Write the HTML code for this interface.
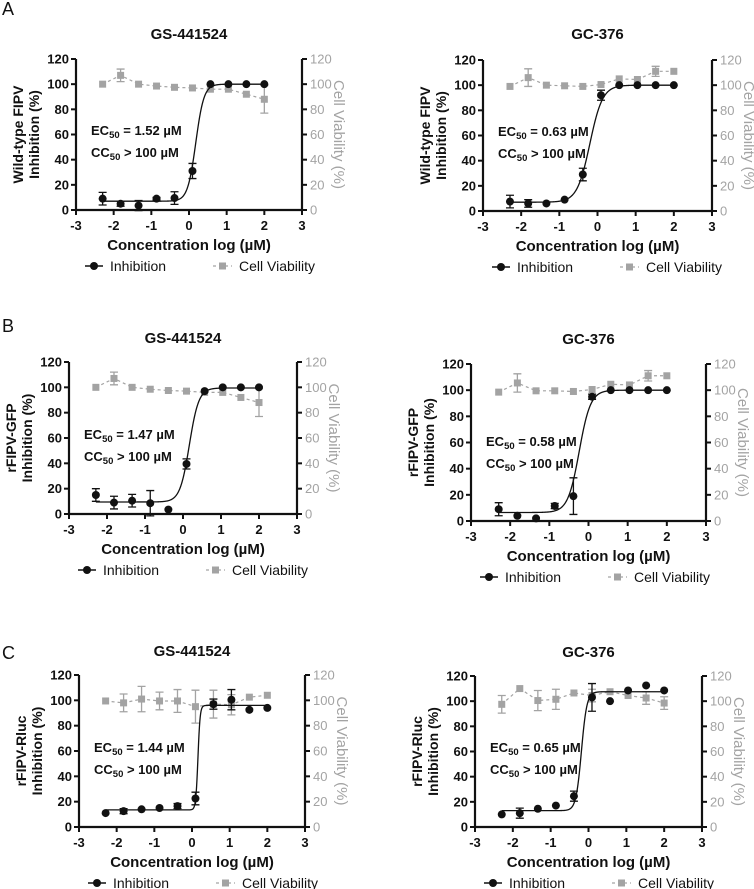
<!DOCTYPE html>
<html><head><meta charset="utf-8">
<style>
html,body{margin:0;padding:0;background:#fff;}
svg{display:block;font-family:"Liberation Sans",Arial,sans-serif;}
</style></head>
<body>
<svg id="fig" width="754" height="889" viewBox="0 0 754 889" xmlns="http://www.w3.org/2000/svg"></svg>
<script>
// Shared x values (log µM)
const xVals = [-2.293,-1.816,-1.339,-0.862,-0.385,0.092,0.569,1.046,1.523,2.0];
const xTicks = [-3,-2,-1,0,1,2,3];
const yTicks = [0,20,40,60,80,100,120];

// Panel A-left (GS-441524, Wild-type FIPV)
const aLInh = [9,5,3.5,9,9.5,31,100,100,100,100];
const aLInhErr = [5,2,4,1,5,6,0,0,0,0];
const aLVia = [100,107,100,98.5,97.5,97,96,96,92,88];
const aLViaErr = [0,5,0,0,0,0,0,0,0,11];
const aLFit = [7,100,0.18,4];
// Panel A-right (GC-376)
const aRInh = [7.5,6,6,9,29,92,100,100,100,100];
const aRInhErr = [5,3,0,0,5,4,0,0,0,0];
const aRVia = [99,106,100,99.5,99,100.5,105,104.5,111,111];
const aRViaErr = [0,7,0,0,0,0,0,0,4,0];
const aRFit = [7,100,-0.2,2.6];
// Panel B-left
const bLInh = [15,9,10.5,8.5,3.5,39.5,97,100,100,100];
const bLInhErr = [5,5,5,10,0,4,0,0,0,0];
const bLVia = [100,107,100,98.5,97.5,97,96,96,92,88];
const bLViaErr = [0,5,0,0,0,0,0,0,0,11];
const bLFit = [9.5,99.5,0.167,3.5];
// Panel B-right
const bRInh = [9,4,2,11.5,19,95,100,100,100,100];
const bRInhErr = [5,0,0,2,14,2,0,0,0,0];
const bRVia = [98.5,105.5,99.5,99.5,99,100.5,104.5,104,111,111];
const bRViaErr = [0,7,0,0,0,0,0,0,4,0];
const bRFit = [6.5,100,-0.237,3];
// Panel C-left
const cLInh = [11,12.5,14,15,16.5,22.5,97,100.5,92.5,94];
const cLInhErr = [0,2,0,0,2,5,4,8,0,0];
const cLVia = [99.5,98,101,99.5,99.5,95,97,96.5,102.5,104];
const cLViaErr = [0,7,10,7,9,13,11,8,0,0];
const cLFit = [13.5,96,0.158,15];
// Panel C-right
const cRInh = [10,11,14.5,17,24.5,103,100,108.5,112.5,108.5];
const cRInhErr = [0,4,0,0,4,11,0,0,0,0];
const cRVia = [97.5,110,100.5,101.5,106.5,104.5,107.5,104.5,102.5,98.5];
const cRViaErr = [7,0,8,8,0,5,0,0,5,5];
const cRFit = [13,107.5,-0.187,6];

const NS="http://www.w3.org/2000/svg";
const svg=document.getElementById('fig');
const GRAY="#a3a3a3";
function mk(tag,attrs,parent,text){
  const e=document.createElementNS(NS,tag);
  for(const k in attrs) e.setAttribute(k,attrs[k]);
  if(text!==undefined) e.textContent=text;
  (parent||svg).appendChild(e);return e;
}

const panels=[
 {id:'a-left',L:76,R:302,B:210,T:59,title:'GS-441524',tY:34,yt:['Wild-type FIPV','Inhibition (%)'],ec:'1.52',inh:aLInh,ie:aLInhErr,via:aLVia,ve:aLViaErr,fit:aLFit},
 {id:'a-right',L:483,R:712,B:211,T:60,title:'GC-376',tY:34,yt:['Wild-type FIPV','Inhibition (%)'],ec:'0.63',inh:aRInh,ie:aRInhErr,via:aRVia,ve:aRViaErr,fit:aRFit},
 {id:'b-left',L:69,R:297,B:514,T:362,title:'GS-441524',tY:338,yt:['rFIPV-GFP','Inhibition (%)'],ec:'1.47',inh:bLInh,ie:bLInhErr,via:bLVia,ve:bLViaErr,fit:bLFit},
 {id:'b-right',L:471,R:706,B:521,T:364,title:'GC-376',tY:339,yt:['rFIPV-GFP','Inhibition (%)'],ec:'0.58',inh:bRInh,ie:bRInhErr,via:bRVia,ve:bRViaErr,fit:bRFit},
 {id:'c-left',L:79,R:305,B:827,T:675,title:'GS-441524',tY:651,yt:['rFIPV-Rluc','Inhibition (%)'],ec:'1.44',inh:cLInh,ie:cLInhErr,via:cLVia,ve:cLViaErr,fit:cLFit},
 {id:'c-right',L:475,R:702,B:827,T:676,title:'GC-376',tY:652,yt:['rFIPV-Rluc','Inhibition (%)'],ec:'0.65',inh:cRInh,ie:cRInhErr,via:cRVia,ve:cRViaErr,fit:cRFit}
];

[['A',15],['B',332],['C',659]].forEach(([t,y])=>{
  const e=mk('text',{x:2,y:y,'font-size':18,fill:'#111'},svg,t);
  
  
});

panels.forEach(p=>{
  const g=mk('g',{});
  
  
  const sx=v=>p.L+(v+3)/6*(p.R-p.L);
  const sy=v=>p.B-v/120*(p.B-p.T);
  const cx=(p.L+p.R)/2;
  const t=mk('text',{x:cx,y:p.tY+5,'text-anchor':'middle','font-size':15,'font-weight':'bold',fill:'#111'},g,p.title);
  
  
  const ax=mk('g',{},g);
  
  
  mk('line',{x1:p.L,y1:p.B,x2:p.R,y2:p.B,stroke:'#111','stroke-width':2.2},ax);
  mk('line',{x1:p.L,y1:p.B+1,x2:p.L,y2:p.T,stroke:'#111','stroke-width':2.2},ax);
  mk('line',{x1:p.R,y1:p.B+1,x2:p.R,y2:p.T,stroke:'#111','stroke-width':2.2},ax);
  xTicks.forEach(v=>{
    mk('line',{x1:sx(v),y1:p.B,x2:sx(v),y2:p.B+5,stroke:'#111','stroke-width':2},ax);
    const e=mk('text',{x:sx(v),y:p.B+20,'text-anchor':'middle','font-size':13,'font-weight':'bold',fill:'#111'},ax,String(v));
    
    
  });
  yTicks.forEach(v=>{
    mk('line',{x1:p.L-5,y1:sy(v),x2:p.L,y2:sy(v),stroke:'#111','stroke-width':2},ax);
    const e=mk('text',{x:p.L-7,y:sy(v)+4.5,'text-anchor':'end','font-size':13,'font-weight':'bold',fill:'#111'},ax,String(v));
    
    
    mk('line',{x1:p.R,y1:sy(v),x2:p.R+5,y2:sy(v),stroke:'#111','stroke-width':2},ax);
    const r=mk('text',{x:p.R+8,y:sy(v)+4.5,'text-anchor':'start','font-size':13,fill:GRAY},ax,String(v));
    
    
  });
  const xt=mk('text',{x:cx,y:p.B+40,'text-anchor':'middle','font-size':15,'font-weight':'bold',fill:'#111'},g,'Concentration log (µM)');
  
  
  const my=(p.B+p.T)/2;
  const ylx=p.L-53;
  const yl=mk('text',{transform:`translate(${ylx},${my}) rotate(-90)`,'text-anchor':'middle','font-size':14,'font-weight':'bold',fill:'#111'},g);
  
  
  mk('tspan',{x:0,y:0},yl,p.yt[0]);
  mk('tspan',{x:0,y:16},yl,p.yt[1]);
  const yr=mk('text',{transform:`translate(${p.R+32},${my}) rotate(90)`,'text-anchor':'middle','font-size':15,fill:GRAY},g,'Cell Viability (%)');
  
  
  const e1=mk('text',{x:p.L+15,y:p.B-75,'font-size':13,'font-weight':'bold',fill:'#111'},g);
  
  
  mk('tspan',{},e1,'EC');mk('tspan',{'font-size':9.5,dy:3},e1,'50');mk('tspan',{dy:-3},e1,' = '+p.ec+' µM');
  const e2=mk('text',{x:p.L+15,y:p.B-53,'font-size':13,'font-weight':'bold',fill:'#111'},g);
  
  
  mk('tspan',{},e2,'CC');mk('tspan',{'font-size':9.5,dy:3},e2,'50');mk('tspan',{dy:-3},e2,' > 100 µM');
  const vg=mk('g',{},g);
  
  
  mk('polyline',{points:xVals.map((x,i)=>sx(x)+','+sy(p.via[i])).join(' '),fill:'none',stroke:GRAY,'stroke-width':1.2,'stroke-dasharray':'3,3'},vg);
  xVals.forEach((x,i)=>{
    if(p.ve[i]>0){
      const X=sx(x),y1=sy(p.via[i]-p.ve[i]),y2=sy(p.via[i]+p.ve[i]);
      mk('path',{d:`M${X},${y1}V${y2}M${X-4},${y1}H${X+4}M${X-4},${y2}H${X+4}`,stroke:GRAY,'stroke-width':1.3,fill:'none'},vg);
    }
    const s=mk('rect',{x:sx(x)-3.5,y:sy(p.via[i])-3.5,width:7,height:7,fill:GRAY},vg);
    
    
  });
  const [bot,top,lec,h]=p.fit;
  let d='';
  for(let k=0;k<=400;k++){
    const x=-2.293+k/400*(2.0+2.293);
    const y=bot+(top-bot)/(1+Math.pow(10,(lec-x)*h));
    d+=(k?'L':'M')+sx(x).toFixed(2)+','+sy(y).toFixed(2);
  }
  const c=mk('path',{d:d,fill:'none',stroke:'#111','stroke-width':1.3},g);
  
  
  const ig=mk('g',{},g);
  
  
  xVals.forEach((x,i)=>{
    if(p.ie[i]>0){
      const X=sx(x),y1=sy(p.inh[i]-p.ie[i]),y2=sy(p.inh[i]+p.ie[i]);
      mk('path',{d:`M${X},${y1}V${y2}M${X-4},${y1}H${X+4}M${X-4},${y2}H${X+4}`,stroke:'#111','stroke-width':1.3,fill:'none'},ig);
    }
    const s=mk('circle',{cx:sx(x),cy:sy(p.inh[i]),r:4,fill:'#111'},ig);
    
    
  });
  const lg=mk('g',{},g);
  
  
  const ly=p.B+56;
  const l1=mk('g',{},lg);
  
  
  mk('line',{x1:p.L+9,y1:ly,x2:p.L+27,y2:ly,stroke:'#111','stroke-width':1.5},l1);
  mk('circle',{cx:p.L+18,cy:ly,r:4,fill:'#111'},l1);
  mk('text',{x:p.L+34,y:ly+5,'font-size':14,fill:'#111'},l1,'Inhibition');
  const l2=mk('g',{},lg);
  
  
  mk('line',{x1:p.L+137,y1:ly,x2:p.L+156,y2:ly,stroke:GRAY,'stroke-width':1.3,'stroke-dasharray':'3,3'},l2);
  mk('rect',{x:p.L+143,y:ly-3.5,width:7,height:7,fill:GRAY},l2);
  mk('text',{x:p.L+163,y:ly+5,'font-size':14,fill:'#111'},l2,'Cell Viability');
});
</script>
</body></html>
